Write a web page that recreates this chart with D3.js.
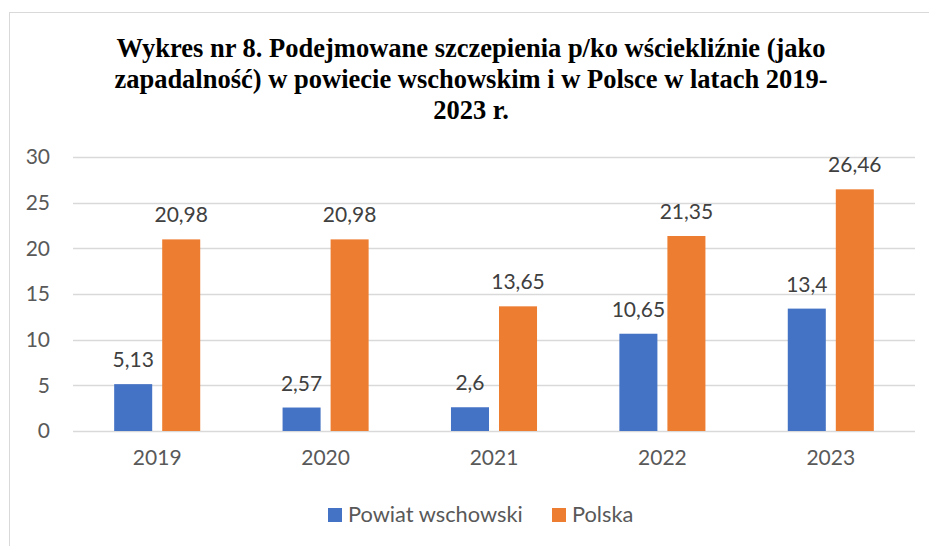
<!DOCTYPE html>
<html>
<head>
<meta charset="utf-8">
<script src="https://cdn.jsdelivr.net/npm/d3@7"></script>
<style>
  body { margin: 0; background: #fff; }
  svg { display: block; }
</style>
</head>
<body>
<div id="chart"></div>
<script>
var years = ["2019", "2020", "2021", "2022", "2023"];
var seriesNames = ["Powiat wschowski", "Polska"];
var powiat = [5.13, 2.57, 2.6, 10.65, 13.4];
var polska = [20.98, 20.98, 13.65, 21.35, 26.46];
var colors = ["#4472C4", "#ED7D31"];
var yTicks = [0, 5, 10, 15, 20, 25, 30];
var titleLines = [
  "Wykres nr 8. Podejmowane szczepienia p/ko wściekliźnie (jako",
  "zapadalność) w powiecie wschowskim i w Polsce w latach 2019-",
  "2023 r."
];

var w = 929, h = 546;
var svg = d3.select("#chart").append("svg")
  .attr("width", w)
  .attr("height", h);

// frame
svg.append("rect")
  .attr("x", 9.5).attr("y", 12.5)
  .attr("width", 960).attr("height", 600)
  .attr("fill", "none")
  .attr("stroke", "#d9d9d9");

// title
svg.selectAll(".title")
  .data(titleLines)
  .enter()
  .append("text")
  .attr("class", "title")
  .text(function(d) { return d; })
  .attr("x", 471)
  .attr("y", function(d, i) { return 57 + i * 31; })
  .attr("text-anchor", "middle")
  .attr("font-family", "'Liberation Serif', 'Times New Roman', serif")
  .attr("font-weight", "bold")
  .attr("font-size", "26.5px")
  .attr("fill", "#000");

var plotL = 73, plotR = 915, plotT = 157, plotB = 431;
var font = "Lato, Carlito, sans-serif";

var y = d3.scaleLinear().domain([0, 30]).range([plotB, plotT]);
var x0 = d3.scaleBand().domain(years).range([plotL, plotR])
  .paddingInner(0.489).paddingOuter(0.2445);
var x1 = d3.scaleBand().domain(seriesNames).range([0, x0.bandwidth()])
  .paddingInner(0.2083);

// gridlines
svg.selectAll(".grid")
  .data(yTicks)
  .enter()
  .append("line")
  .attr("x1", plotL).attr("x2", plotR)
  .attr("y1", function(d) { return Math.round(y(d)) + 0.5; })
  .attr("y2", function(d) { return Math.round(y(d)) + 0.5; })
  .attr("stroke", "#d9d9d9")
  .attr("stroke-width", 1.3);

// y axis labels
var yAxis = d3.axisLeft(y).tickValues(yTicks).tickSize(0).tickPadding(0);
var gy = svg.append("g").attr("transform", "translate(50,0)").call(yAxis);
gy.select(".domain").remove();
gy.selectAll("text")
  .attr("font-family", font)
  .attr("font-size", "21px")
  .attr("fill", "#595959");

// x axis labels
var xAxis = d3.axisBottom(x0).tickSize(0).tickPadding(0);
var gx = svg.append("g").attr("transform", "translate(0,450)").call(xAxis);
gx.select(".domain").remove();
gx.selectAll("text")
  .attr("font-family", font)
  .attr("font-size", "21px")
  .attr("fill", "#595959");

var rows = [];
for (var i = 0; i < years.length; i++) {
  rows.push({ year: years[i], s: seriesNames[0], v: powiat[i], c: colors[0] });
  rows.push({ year: years[i], s: seriesNames[1], v: polska[i], c: colors[1] });
}

svg.selectAll(".bar")
  .data(rows)
  .enter()
  .append("rect")
  .attr("class", "bar")
  .attr("x", function(d) { return x0(d.year) + x1(d.s); })
  .attr("y", function(d) { return y(d.v); })
  .attr("width", x1.bandwidth())
  .attr("height", function(d) { return y(0) - y(d.v); })
  .attr("fill", function(d) { return d.c; });

svg.selectAll(".lbl")
  .data(rows)
  .enter()
  .append("text")
  .attr("class", "lbl")
  .text(function(d) { return String(d.v).replace(".", ","); })
  .attr("text-anchor", "middle")
  .attr("x", function(d) { return x0(d.year) + x1(d.s) + x1.bandwidth() / 2; })
  .attr("y", function(d) { return y(d.v) - 17; })
  .attr("font-family", font)
  .attr("font-size", "21px")
  .attr("fill", "#404040");

// legend
var legX = [328, 552];
var leg = svg.selectAll(".leg")
  .data(seriesNames)
  .enter()
  .append("g")
  .attr("transform", function(d, i) { return "translate(" + legX[i] + ",508)"; });
leg.append("rect")
  .attr("width", 14).attr("height", 14)
  .attr("fill", function(d, i) { return colors[i]; });
leg.append("text")
  .text(function(d) { return d; })
  .attr("x", 20).attr("y", 14)
  .attr("font-family", font)
  .attr("font-size", "21.8px")
  .attr("fill", "#595959");
</script>
</body>
</html>
